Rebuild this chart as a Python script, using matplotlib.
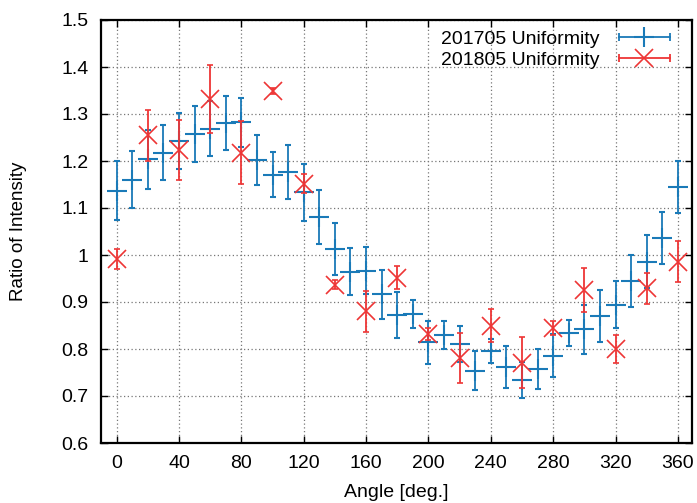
import matplotlib
matplotlib.use("Agg")
import matplotlib.pyplot as plt
from matplotlib.lines import Line2D
from matplotlib.legend_handler import HandlerLine2D, HandlerTuple
import numpy as np

plt.rcParams['font.family'] = ['Liberation Sans', 'DejaVu Sans']
plt.rcParams['font.size'] = 13

# 201705 measurement, every 10 degrees
angle_2017 = np.arange(0, 361, 10)
ratio_2017 = [1.137, 1.160, 1.204, 1.218, 1.243, 1.257, 1.269, 1.281, 1.282, 1.202,
              1.171, 1.177, 1.133, 1.081, 1.013, 0.964, 0.967, 0.916, 0.873, 0.874,
              0.814, 0.830, 0.810, 0.754, 0.796, 0.762, 0.734, 0.757, 0.786, 0.834,
              0.842, 0.870, 0.894, 0.945, 0.986, 1.036, 1.144]
err_2017 = [0.063, 0.061, 0.063, 0.059, 0.060, 0.059, 0.058, 0.058, 0.052, 0.053,
            0.048, 0.058, 0.060, 0.058, 0.055, 0.050, 0.050, 0.053, 0.049, 0.030,
            0.046, 0.030, 0.038, 0.042, 0.025, 0.045, 0.038, 0.042, 0.045, 0.028,
            0.052, 0.055, 0.050, 0.055, 0.056, 0.055, 0.055]

# 201805 measurement, every 20 degrees
angle_2018 = np.arange(0, 361, 20)
ratio_2018 = [0.991, 1.255, 1.223, 1.332, 1.218, 1.349, 1.152, 0.937, 0.880, 0.952,
              0.832, 0.780, 0.850, 0.771, 0.845, 0.926, 0.800, 0.929, 0.986]
err_2018 = [0.021, 0.054, 0.064, 0.072, 0.067, 0.007, 0.020, 0.010, 0.044, 0.025,
            0.013, 0.053, 0.035, 0.054, 0.015, 0.047, 0.030, 0.033, 0.044]

blue = '#1a7ab8'
red = '#ee3535'

fig = plt.figure(figsize=(6.97, 5.03), dpi=100)
fig.subplots_adjust(left=101/697, right=692/697, top=1-20/503, bottom=1-443/503)
ax = fig.add_subplot(111)

ax.errorbar(angle_2017, ratio_2017, yerr=err_2017, fmt='+', color=blue,
            markersize=14, markeredgewidth=1.5, elinewidth=1.3, capsize=2.2,
            capthick=1.3, zorder=3)
ax.errorbar(angle_2018, ratio_2018, yerr=err_2018, fmt='x', color=red,
            markersize=13, markeredgewidth=1.2, elinewidth=1.3, capsize=2.2,
            capthick=1.3, zorder=4)

ax.set_xlim(-10, 369)
ax.set_ylim(0.6, 1.5)
ax.set_xticks(np.arange(0, 361, 40))
yt = np.round(np.arange(0.6, 1.51, 0.1), 1)
ax.set_yticks(yt)
ax.set_yticklabels(['1' if v == 1.0 else f'{v:g}' for v in yt])

ax.grid(True, color='#777777', linestyle=(0, (1, 2)), linewidth=0.9)
ax.tick_params(direction='in', top=True, right=True, length=5, width=1, pad=9,
               labelsize=14)
for s in ax.spines.values():
    s.set_linewidth(1.6)

ax.set_xlabel('Angle [deg.]', fontsize=14)
ax.set_ylabel('Ratio of Intensity', fontsize=13.5)
ax.xaxis.set_label_coords(0.5, -0.097)
ax.yaxis.set_label_coords(-0.125, 0.5)

# gnuplot-style key: horizontal bar with end caps, point symbol on top
handles = []
handler_map = {}
for c, m, ms, mew in [(blue, '+', 14, 1.5), (red, 'x', 13, 1.2)]:
    bar = Line2D([], [], color=c, linewidth=1.3, marker='|', markersize=6,
                 markeredgewidth=1.3)
    pt = Line2D([], [], color=c, linestyle='none', marker=m, markersize=ms,
                markeredgewidth=mew)
    handler_map[pt] = HandlerLine2D(numpoints=1)
    handles.append((bar, pt))
handler_map[tuple] = HandlerTuple(ndivide=1, pad=0)
ax.legend(handles, ['201705 Uniformity', '201805 Uniformity'], loc='upper right',
          frameon=False, markerfirst=False, numpoints=2, handlelength=3.2,
          handletextpad=0.7, labelspacing=0.2, borderaxespad=0.0,
          bbox_to_anchor=(0.985, 0.995), handler_map=handler_map, fontsize=14)

fig.savefig('out.png', dpi=100)
